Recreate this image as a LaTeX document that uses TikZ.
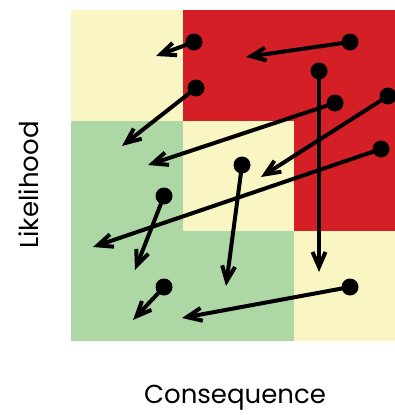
\documentclass[tikz,border=0pt]{standalone}
\usepackage{fontspec}
\setmainfont{Poppins}
\usetikzlibrary{arrows.meta}
\definecolor{riskred}{HTML}{D51F26}
\definecolor{riskyellow}{HTML}{FAF6C4}
\definecolor{riskgreen}{HTML}{ADD7A5}
\tikzset{
  risk/.style={circle,fill=black,inner sep=0pt,minimum size=17pt},
  move/.style={line width=4pt,-{Straight Barb[length=15pt,width=13pt]}},
  axislabel/.style={font=\fontsize{26}{31}\selectfont}
}
\begin{document}
\begin{tikzpicture}[x=1pt,y=-1pt]
\useasboundingbox (0,0) rectangle (395,415);
\clip (0,0) rectangle (395,415);
\fill[riskyellow] (71,10) rectangle (183,121); \fill[riskred] (183,10) rectangle (294,121); \fill[riskred] (294,10) rectangle (406,121);
\fill[riskgreen] (71,121) rectangle (183,231); \fill[riskyellow] (183,121) rectangle (294,231); \fill[riskred] (294,121) rectangle (406,231);
\fill[riskgreen] (71,231) rectangle (183,341); \fill[riskgreen] (183,231) rectangle (294,341); \fill[riskyellow] (294,231) rectangle (406,341);
\node[axislabel] (conseq) at (235,398) {Consequence};
\node[axislabel,rotate=90] (likeli) at (29,185) {Likelihood};
\node[risk] (r1) at (194,42) {}; \coordinate (t1) at (156,56);
\node[risk] (r2) at (350,42) {}; \coordinate (t2) at (246,57);
\node[risk] (r3) at (319,71) {}; \coordinate (t3) at (319,272);
\node[risk] (r4) at (196,88) {}; \coordinate (t4) at (122,146);
\node[risk] (r5) at (335,103) {}; \coordinate (t5) at (148,165);
\node[risk] (r6) at (388,96) {}; \coordinate (t6) at (261,177);
\node[risk] (r7) at (381,149) {}; \coordinate (t7) at (93,247);
\node[risk] (r8) at (242,165) {}; \coordinate (t8) at (226,286);
\node[risk] (r9) at (164,196) {}; \coordinate (t9) at (135,270);
\node[risk] (r10) at (164,287) {}; \coordinate (t10) at (133,320);
\node[risk] (r11) at (350,287) {}; \coordinate (t11) at (182,318);
\foreach \i in {1,...,11} {\draw[move] (r\i.center) -- (t\i);}
\end{tikzpicture}
\end{document}
